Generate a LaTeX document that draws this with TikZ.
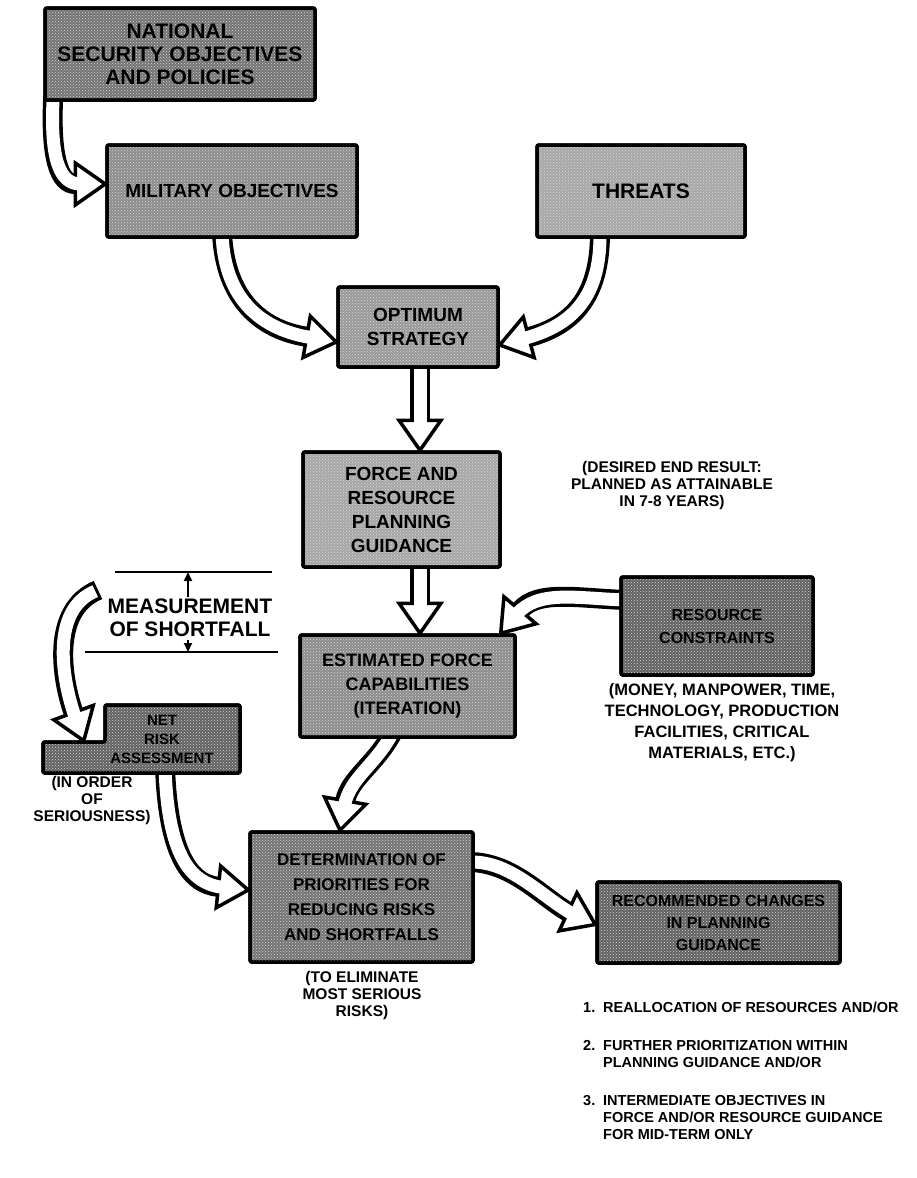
\documentclass[tikz,border=0pt]{standalone}
\usepackage{fontspec}
\setmainfont{Liberation Sans}
\usetikzlibrary{calc,arrows.meta,backgrounds,patterns}
\newcommand\setfs[2]{\fontsize{#1}{#2}\selectfont\bfseries}
% hollow arrow: #1 path up to the head base, #2 tip, #3 direction angle
\newcommand\harrow[3]{%
  \coordinate (ht) at (#2);
  \coordinate (hb) at ($(ht)+(#3+180:30pt)$);
  \draw[line width=20pt, black] #1 (hb);
  \filldraw[fill=white, draw=black, line width=3.5pt, line join=miter]
    (ht) -- ($(hb)+(#3+90:21pt)$) -- ($(hb)+(#3-90:21pt)$) -- cycle;
  \draw[line width=13pt, white, shorten <=3pt] #1 ($(hb)+(#3:5pt)$);
}
\tikzset{
  boxpaint/.style={draw=black, line width=3.5pt, rounded corners=2pt,
    postaction={pattern=crosshatch dots, pattern color=white!85!black},
    postaction={draw=black, line width=3.5pt, rounded corners=2pt}},
  box/.style={boxpaint, align=center, inner sep=0pt, text=black},
  lbl/.style={align=center, inner sep=0pt},
  item/.style={inner sep=0pt, anchor=base west, font=\setfs{14.5}{17}},
  thinarrow/.style={line width=1.8pt, -{Triangle[length=9pt,width=8pt]}},
  bracket/.style={line width=2pt},
}
\begin{document}
\begin{tikzpicture}[x=1pt,y=-1pt]
\useasboundingbox (0,0) rectangle (917,1178);

% boxes
\node[box, fill=black!55, minimum width=270pt, minimum height=92pt, font=\setfs{21}{23}] (A) at (180,54) {NATIONAL\\SECURITY OBJECTIVES\\AND POLICIES};
\node[box, fill=black!45, minimum width=250pt, minimum height=92pt, font=\setfs{19}{23}] (B) at (232,191) {MILITARY OBJECTIVES};
\node[box, fill=black!35, minimum width=208pt, minimum height=92pt, font=\setfs{21}{23}] (C) at (641,191) {THREATS};
\node[box, fill=black!40, minimum width=160pt, minimum height=80pt, font=\setfs{19}{24}] (D) at (418,327) {OPTIMUM\\STRATEGY};
\node[box, fill=black!35, minimum width=197pt, minimum height=115pt, font=\setfs{19}{24}] (E) at (401.5,509.5) {FORCE AND\\RESOURCE\\PLANNING\\GUIDANCE};
\node[box, fill=black!45, minimum width=215pt, minimum height=102pt, font=\setfs{18}{24}] (F) at (407.5,686) {ESTIMATED FORCE\\CAPABILITIES\\(ITERATION)};
\node[box, fill=black!62, minimum width=192pt, minimum height=98pt, font=\setfs{16}{23}] (G) at (717,626) {RESOURCE\\CONSTRAINTS};
\path[boxpaint, fill=black!62] (43,773) -- (43,742) -- (105,742) -- (105,705) -- (240,705) -- (240,773) -- cycle;
\node[lbl, minimum width=197pt, minimum height=68pt] (H) at (141.5,739) {};
\node[lbl, font=\setfs{15}{19}] (Ht) at (162,739) {NET\\RISK\\ASSESSMENT};
\node[box, fill=black!55, minimum width=223pt, minimum height=130pt, font=\setfs{17}{25}] (I) at (361.5,897) {DETERMINATION OF\\PRIORITIES FOR\\REDUCING RISKS\\AND SHORTFALLS};
\node[box, fill=black!62, minimum width=243pt, minimum height=81pt, font=\setfs{16}{22}] (J) at (718.5,922.5) {RECOMMENDED CHANGES\\IN PLANNING\\GUIDANCE};

% hollow connectors behind the boxes
\begin{pgfonlayer}{background}
\harrow{($(A.south west)+(10,-6)$) .. controls (50,160) and (60,184) ..}{$(B.west)+(0,-7)$}{0}
\harrow{($(B.south)+(-10,-6)$) .. controls (225,300) and (262,330) ..}{$(D.west)+(0,15)$}{-10}
\harrow{($(C.south)+(-41,-6)$) .. controls (600,300) and (570,326) ..}{$(D.east)+(0,18)$}{195}
\harrow{($(D.south)+(2,-6)$) --}{$(E.north)+(18.5,0)$}{-90}
\harrow{($(E.south)+(18.5,-6)$) --}{$(F.north)+(12.5,0)$}{-90}
\harrow{($(G.west)+(6,-26)$) .. controls (575,598) and (538,590) ..}{$(F.north east)+(-16,0)$}{-130}
\harrow{($(F.south)+(-15,-6)$) .. controls (375,765) and (350,778) ..}{$(I.north)+(-21.5,0)$}{-100}
\harrow{($(H.south)+(23.5,-6)$) .. controls (168,850) and (188,884) ..}{$(I.west)+(0,-7)$}{-6}
\harrow{($(I.east)+(-6,-35)$) .. controls (512,862) and (542,897) ..}{$(J.west)+(0,2)$}{-25}
\end{pgfonlayer}

% measurement of shortfall
\coordinate (m0) at (98,590);
\harrow{(m0) .. controls (50,610) and (62,680) ..}{$(H.north west)+(41,36)$}{-70}
\coordinate (mt1) at (115,572);
\coordinate (mt2) at (272,572);
\coordinate (mb1) at (85,652);
\coordinate (mb2) at (278,652);
\draw[bracket] (mt1) -- (mt2);
\draw[bracket] (mb1) -- (mb2);
\node[lbl, font=\setfs{21}{23}] (M) at (190,618) {MEASUREMENT\\OF SHORTFALL};
\coordinate (ua) at (188,597);
\coordinate (da) at (188,640);
\draw[thinarrow] (ua) -- (ua |- mt1);
\draw[thinarrow] (da) -- (da |- mb1);

% notes
\node[lbl, font=\setfs{15.5}{17}] (dr) at (672,485) {(DESIRED END RESULT:\\PLANNED AS ATTAINABLE\\IN 7-8 YEARS)};
\node[lbl, font=\setfs{16.5}{21}] (mo) at (722,723) {(MONEY, MANPOWER, TIME,\\TECHNOLOGY, PRODUCTION\\FACILITIES, CRITICAL\\MATERIALS, ETC.)};
\node[lbl, font=\setfs{15.5}{17}] (io) at (92,800) {(IN ORDER\\OF\\SERIOUSNESS)};
\node[lbl, font=\setfs{15.5}{17}] (te) at (362,995) {(TO ELIMINATE\\MOST SERIOUS\\RISKS)};

% list
\node[item] (n1) at (583,1012) {1.};
\node[item] (t1) at (603,1012) {REALLOCATION OF RESOURCES AND/OR};
\node[item] (n2) at (583,1050) {2.};
\node[item] (t2a) at (603,1050) {FURTHER PRIORITIZATION WITHIN};
\node[item] (t2b) at (603,1067) {PLANNING GUIDANCE AND/OR};
\node[item] (n3) at (583,1105) {3.};
\node[item] (t3a) at (603,1105) {INTERMEDIATE OBJECTIVES IN};
\node[item] (t3b) at (603,1122) {FORCE AND/OR RESOURCE GUIDANCE};
\node[item] (t3c) at (603,1139) {FOR MID-TERM ONLY};
\end{tikzpicture}
\end{document}
